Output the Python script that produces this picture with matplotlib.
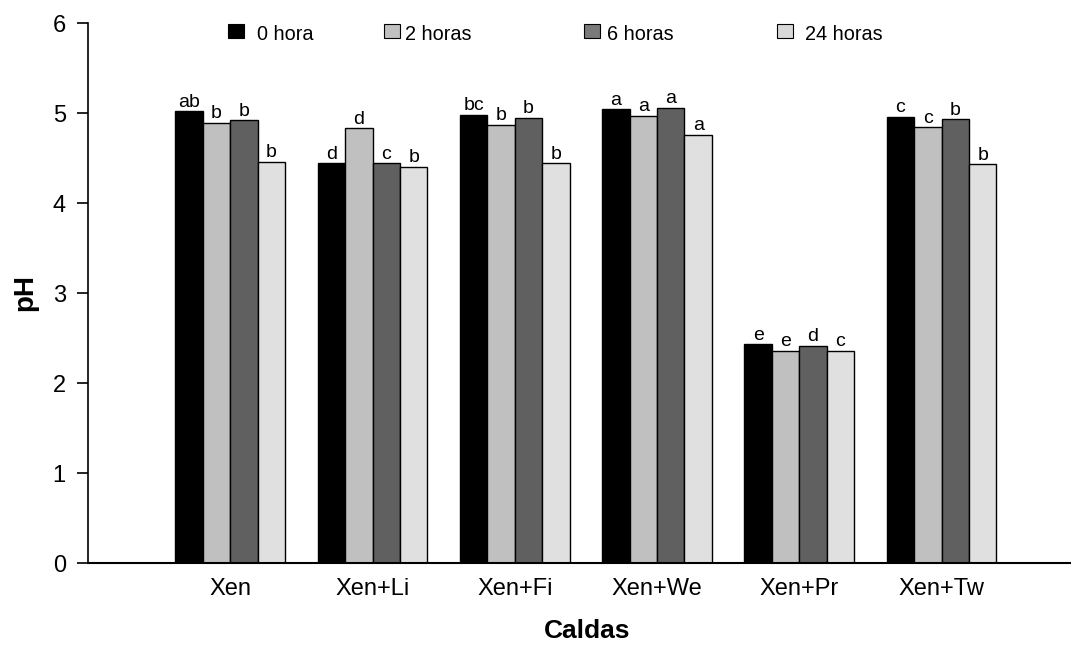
import matplotlib
matplotlib.use("Agg")
import matplotlib.pyplot as plt
from matplotlib.patches import Rectangle
import numpy as np

plt.rcParams['font.family'] = ['Liberation Sans', 'DejaVu Sans']

categories = ["Xen", "Xen+Li", "Xen+Fi", "Xen+We", "Xen+Pr", "Xen+Tw"]
series_names = ["0 hora", "2 horas", "6 horas", "24 horas"]
ph_0h = [5.02, 4.44, 4.98, 5.04, 2.43, 4.96]
ph_2h = [4.89, 4.83, 4.87, 4.97, 2.36, 4.84]
ph_6h = [4.92, 4.44, 4.95, 5.06, 2.41, 4.93]
ph_24h = [4.46, 4.40, 4.44, 4.76, 2.36, 4.43]
letters_0h = ["ab", "d", "bc", "a", "e", "c"]
letters_2h = ["b", "d", "b", "a", "e", "c"]
letters_6h = ["b", "c", "b", "a", "d", "b"]
letters_24h = ["b", "b", "b", "a", "c", "b"]

series = [ph_0h, ph_2h, ph_6h, ph_24h]
letters = [letters_0h, letters_2h, letters_6h, letters_24h]
bar_colors = ["#000000", "#c0c0c0", "#606060", "#e0e0e0"]
legend_colors = ["#000000", "#c0c0c0", "#7a7a7a", "#d8d8d8"]

W, H = 1071, 645
fig = plt.figure(figsize=(W / 100, H / 100), dpi=100)
ax = fig.add_axes([88 / W, (H - 563) / H, (W - 88) / W, (563 - 23) / H])

x = np.arange(len(categories))
w = 0.193
for k, (vals, labs) in enumerate(zip(series, letters)):
    pos = x + (k - 1.5) * w
    ax.bar(pos, vals, width=w, color=bar_colors[k], edgecolor="black", linewidth=1.0)
    for px, v, t in zip(pos, vals, labs):
        ax.annotate(t, (px, v), xytext=(0, 0.5), textcoords="offset points",
                    ha="center", va="bottom", fontsize=14)

ax.set_xlim(-1.0, 5.91)
ax.set_ylim(0, 6)
ax.set_xticks(x)
ax.set_xticklabels(categories, fontsize=17)
ax.tick_params(axis="x", length=0, pad=11)
ax.set_yticks(range(0, 7))
ax.tick_params(axis="y", labelsize=17, length=8, width=1.2, pad=8)
for s in ["top", "right"]:
    ax.spines[s].set_visible(False)
ax.spines["left"].set_linewidth(1.2)
ax.spines["bottom"].set_linewidth(1.5)

fig.text(25 / W, 1 - 292 / H, "pH", fontsize=20, fontweight="bold",
         rotation=90, ha="center", va="center")
fig.text(587 / W, 1 - 631 / H, "Caldas", fontsize=19, fontweight="bold",
         ha="center", va="center")

# legend drawn manually at reference positions (figure pixel coords)
sq_x = [228, 384, 584, 777]
tx_x = [257, 405, 607, 805]
for name, sx, tx, c in zip(series_names, sq_x, tx_x, legend_colors):
    fig.patches.append(Rectangle((sx / W, 1 - 38 / H), 16 / W, 14 / H,
                                 transform=fig.transFigure, facecolor=c,
                                 edgecolor="black", linewidth=0.8))
    fig.text(tx / W, 1 - 34 / H, name, fontsize=14.3, va="center", ha="left")

fig.savefig("out.png", dpi=100)
